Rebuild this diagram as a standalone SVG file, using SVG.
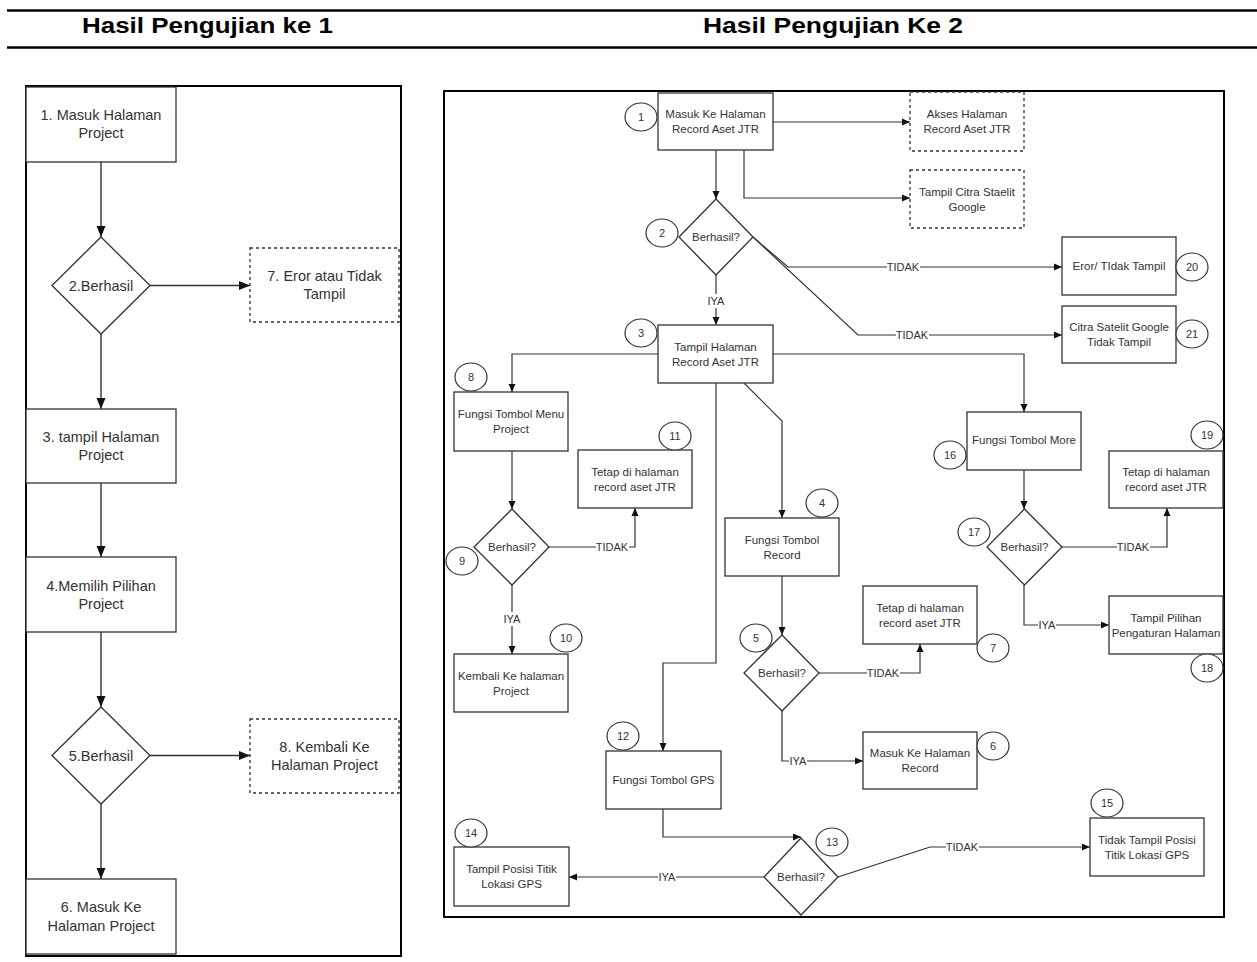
<svg xmlns="http://www.w3.org/2000/svg" width="1257" height="962" viewBox="0 0 1257 962">
<style>
.t{font-family:"Liberation Sans",Arial,sans-serif;fill:#333;text-anchor:middle}
.tl{font-size:14.5px}
.tr{font-size:11.5px}
.tn{font-size:11px}
.lb{font-family:"Liberation Sans",Arial,sans-serif;font-size:11px;fill:#333;text-anchor:middle}
.h{font-family:"Liberation Sans",Arial,sans-serif;font-size:22px;font-weight:bold;fill:#000;text-anchor:middle}
.box{fill:#fff;stroke:#333;stroke-width:1.3}
.dbox{fill:#fff;stroke:#333;stroke-width:1.3;stroke-dasharray:3 3}
.frame{fill:none;stroke:#000;stroke-width:2}
.num{fill:#fff;stroke:#333;stroke-width:1.2}
.cl{fill:none;stroke:#333;stroke-width:1.4;marker-end:url(#ahL)}
.ca{fill:none;stroke:#333;stroke-width:1.2;marker-end:url(#ah)}
.bg{fill:#fff}
</style>
<defs>
<marker id="ah" markerUnits="userSpaceOnUse" markerWidth="9" markerHeight="8" refX="8" refY="4" orient="auto"><path d="M0,0.5 L8,4 L0,7.5 z" fill="#111"/></marker>
<marker id="ahL" markerUnits="userSpaceOnUse" markerWidth="12" markerHeight="10" refX="11" refY="5" orient="auto"><path d="M0,0.5 L11,5 L0,9.5 z" fill="#111"/></marker>
</defs>
<rect width="1257" height="962" fill="#fff"/>

<g id="header">
<line x1="7" y1="10.5" x2="1257" y2="10.5" stroke="#000" stroke-width="2.3"/>
<line x1="7" y1="47.5" x2="1257" y2="47.5" stroke="#000" stroke-width="2.5"/>
<text class="h" x="207.5" y="33" textLength="251" lengthAdjust="spacingAndGlyphs">Hasil Pengujian ke 1</text>
<text class="h" x="833" y="33" textLength="260" lengthAdjust="spacingAndGlyphs">Hasil Pengujian Ke 2</text>
</g>

<rect id="frame-left" class="frame" x="26" y="86" width="375" height="870"/>
<rect id="frame-right" class="frame" x="444" y="91" width="780" height="826"/>

<g id="connectors">
<path class="cl" d="M101,162 V237"/>
<path class="cl" d="M150,285.5 H250"/>
<path class="cl" d="M101,334 V409"/>
<path class="cl" d="M101,483 V557"/>
<path class="cl" d="M101,632 V707"/>
<path class="cl" d="M150,755.5 H250"/>
<path class="cl" d="M101,804 V879"/>

<path class="ca" d="M773,122 H910"/>
<path class="ca" d="M744,150 V198 H910"/>
<path class="ca" d="M716,150 V199"/>
<path class="ca" d="M716,275 V325"/>
<path class="ca" d="M753,237 L788,267 H1062"/>
<path class="ca" d="M753,237 L858,335 H1062"/>
<path class="ca" d="M658,354 H512 V392"/>
<path class="ca" d="M773,354 H1024 V412"/>
<path class="ca" d="M744,383 L782,421 V518"/>
<path class="ca" d="M716,383 V663 H663 V751"/>
<path class="ca" d="M512,451 V509"/>
<path class="ca" d="M549,547 H635 V508"/>
<path class="ca" d="M512,585 V654"/>
<path class="ca" d="M782,576 V635"/>
<path class="ca" d="M819,673 H920 V644"/>
<path class="ca" d="M782,711 V761 H863"/>
<path class="ca" d="M1024,470 V509"/>
<path class="ca" d="M1062,547 H1167 V508"/>
<path class="ca" d="M1024,585 V625 H1109"/>
<path class="ca" d="M663,809 V837 H801"/>
<path class="ca" d="M764,877 H569"/>
<path class="ca" d="M838,877 L930,847 H1090"/>

<g id="labels">
<rect class="bg" x="707" y="294" width="18" height="14"/><text class="lb" x="716" y="305">IYA</text>
<rect class="bg" x="887" y="260" width="33" height="14"/><text class="lb" x="903" y="271">TIDAK</text>
<rect class="bg" x="896" y="328" width="33" height="14"/><text class="lb" x="912" y="339">TIDAK</text>
<rect class="bg" x="596" y="540" width="33" height="14"/><text class="lb" x="612" y="551">TIDAK</text>
<rect class="bg" x="503" y="612" width="18" height="14"/><text class="lb" x="512" y="623">IYA</text>
<rect class="bg" x="867" y="666" width="33" height="14"/><text class="lb" x="883" y="677">TIDAK</text>
<rect class="bg" x="789" y="754" width="18" height="14"/><text class="lb" x="798" y="765">IYA</text>
<rect class="bg" x="1117" y="540" width="33" height="14"/><text class="lb" x="1133" y="551">TIDAK</text>
<rect class="bg" x="1038" y="618" width="18" height="14"/><text class="lb" x="1047" y="629">IYA</text>
<rect class="bg" x="658" y="870" width="18" height="14"/><text class="lb" x="667" y="881">IYA</text>
<rect class="bg" x="946" y="840" width="33" height="14"/><text class="lb" x="962" y="851">TIDAK</text>
</g>
</g>

<g id="L1"><rect class="box" x="26" y="87" width="150" height="75"/><text class="t tl" x="101" y="120">1. Masuk Halaman</text><text class="t tl" x="101" y="138">Project</text></g>
<g id="L2"><polygon class="box" points="101,237 150,285.5 101,334 52,285.5"/><text class="t tl" x="101" y="290.5">2.Berhasil</text></g>
<g id="L7"><rect class="dbox" x="250" y="248" width="149" height="74"/><text class="t tl" x="324.5" y="281">7. Eror atau Tidak</text><text class="t tl" x="324.5" y="299">Tampil</text></g>
<g id="L3"><rect class="box" x="26" y="409" width="150" height="74"/><text class="t tl" x="101" y="442">3. tampil Halaman</text><text class="t tl" x="101" y="460">Project</text></g>
<g id="L4"><rect class="box" x="26" y="557" width="150" height="75"/><text class="t tl" x="101" y="591">4.Memilih Pilihan</text><text class="t tl" x="101" y="609">Project</text></g>
<g id="L5"><polygon class="box" points="101,707 150,755.5 101,804 52,755.5"/><text class="t tl" x="101" y="760.5">5.Berhasil</text></g>
<g id="L8"><rect class="dbox" x="250" y="719" width="149" height="74"/><text class="t tl" x="324.5" y="752">8. Kembali Ke</text><text class="t tl" x="324.5" y="770">Halaman Project</text></g>
<g id="L6"><rect class="box" x="26" y="879" width="150" height="75"/><text class="t tl" x="101" y="912">6. Masuk Ke</text><text class="t tl" x="101" y="931">Halaman Project</text></g>

<g id="R1"><rect class="box" x="658" y="93" width="115" height="57"/><text class="t tr" x="715.5" y="118">Masuk Ke Halaman</text><text class="t tr" x="715.5" y="133">Record Aset JTR</text><ellipse class="num" cx="641" cy="117" rx="16" ry="14"/><text class="t tn" x="641" y="121">1</text></g>
<g id="RAkses"><rect class="dbox" x="910" y="92" width="114" height="59"/><text class="t tr" x="967" y="118">Akses Halaman</text><text class="t tr" x="967" y="133">Record Aset JTR</text></g>
<g id="RCitra"><rect class="dbox" x="910" y="170" width="114" height="58"/><text class="t tr" x="967" y="195.5">Tampil Citra Staelit</text><text class="t tr" x="967" y="210.5">Google</text></g>
<g id="R2"><polygon class="box" points="716,199 753,237 716,275 679,237"/><text class="t tr" x="716" y="241">Berhasil?</text><ellipse class="num" cx="662" cy="233" rx="16" ry="14"/><text class="t tn" x="662" y="237">2</text></g>
<g id="R20"><rect class="box" x="1062" y="237" width="114" height="58"/><text class="t tr" x="1119" y="270">Eror/ TIdak Tampil</text><ellipse class="num" cx="1192" cy="267" rx="16" ry="14"/><text class="t tn" x="1192" y="271">20</text></g>
<g id="R21"><rect class="box" x="1062" y="306" width="114" height="57"/><text class="t tr" x="1119" y="331">Citra Satelit Google</text><text class="t tr" x="1119" y="346">Tidak Tampil</text><ellipse class="num" cx="1192" cy="334" rx="16" ry="14"/><text class="t tn" x="1192" y="338">21</text></g>
<g id="R3"><rect class="box" x="658" y="325" width="115" height="58"/><text class="t tr" x="715.5" y="350.5">Tampil Halaman</text><text class="t tr" x="715.5" y="365.5">Record Aset JTR</text><ellipse class="num" cx="641" cy="333" rx="16" ry="14"/><text class="t tn" x="641" y="337">3</text></g>
<g id="R8"><rect class="box" x="454" y="392" width="114" height="59"/><text class="t tr" x="511" y="418">Fungsi Tombol Menu</text><text class="t tr" x="511" y="433">Project</text><ellipse class="num" cx="471" cy="377" rx="16" ry="14"/><text class="t tn" x="471" y="381">8</text></g>
<g id="R11"><rect class="box" x="578" y="450" width="114" height="58"/><text class="t tr" x="635" y="475.5">Tetap di halaman</text><text class="t tr" x="635" y="490.5">record aset JTR</text><ellipse class="num" cx="675" cy="436" rx="16" ry="14"/><text class="t tn" x="675" y="440">11</text></g>
<g id="R9"><polygon class="box" points="512,509 549,547 512,585 474,547"/><text class="t tr" x="512" y="551">Berhasil?</text><ellipse class="num" cx="462" cy="561" rx="16" ry="14"/><text class="t tn" x="462" y="565">9</text></g>
<g id="R10"><rect class="box" x="454" y="654" width="114" height="58"/><text class="t tr" x="511" y="679.5">Kembali Ke halaman</text><text class="t tr" x="511" y="694.5">Project</text><ellipse class="num" cx="566" cy="638" rx="16" ry="14"/><text class="t tn" x="566" y="642">10</text></g>
<g id="R4"><rect class="box" x="725" y="518" width="114" height="58"/><text class="t tr" x="782" y="543.5">Fungsi Tombol</text><text class="t tr" x="782" y="558.5">Record</text><ellipse class="num" cx="822" cy="503" rx="16" ry="14"/><text class="t tn" x="822" y="507">4</text></g>
<g id="R5"><polygon class="box" points="782,635 819,673 782,711 744,673"/><text class="t tr" x="782" y="677">Berhasil?</text><ellipse class="num" cx="756" cy="638" rx="16" ry="14"/><text class="t tn" x="756" y="642">5</text></g>
<g id="R7"><rect class="box" x="863" y="586" width="114" height="58"/><text class="t tr" x="920" y="611.5">Tetap di halaman</text><text class="t tr" x="920" y="626.5">record aset JTR</text><ellipse class="num" cx="993" cy="648" rx="16" ry="14"/><text class="t tn" x="993" y="652">7</text></g>
<g id="R6"><rect class="box" x="863" y="732" width="114" height="57"/><text class="t tr" x="920" y="757">Masuk Ke Halaman</text><text class="t tr" x="920" y="772">Record</text><ellipse class="num" cx="993" cy="746" rx="16" ry="14"/><text class="t tn" x="993" y="750">6</text></g>
<g id="R16"><rect class="box" x="967" y="412" width="114" height="58"/><text class="t tr" x="1024" y="444">Fungsi Tombol More</text><ellipse class="num" cx="950" cy="455" rx="16" ry="14"/><text class="t tn" x="950" y="459">16</text></g>
<g id="R17"><polygon class="box" points="1024.5,509 1062,547 1024.5,585 987,547"/><text class="t tr" x="1024.5" y="551">Berhasil?</text><ellipse class="num" cx="974" cy="532" rx="16" ry="14"/><text class="t tn" x="974" y="536">17</text></g>
<g id="R19"><rect class="box" x="1109" y="451" width="114" height="57"/><text class="t tr" x="1166" y="476">Tetap di halaman</text><text class="t tr" x="1166" y="491">record aset JTR</text><ellipse class="num" cx="1207" cy="435" rx="16" ry="14"/><text class="t tn" x="1207" y="439">19</text></g>
<g id="R18"><rect class="box" x="1109" y="596" width="114" height="58"/><text class="t tr" x="1166" y="621.5">Tampil Pilihan</text><text class="t tr" x="1166" y="636.5">Pengaturan Halaman</text><ellipse class="num" cx="1207" cy="668" rx="16" ry="14"/><text class="t tn" x="1207" y="672">18</text></g>
<g id="R12"><rect class="box" x="606" y="751" width="115" height="58"/><text class="t tr" x="663.5" y="784">Fungsi Tombol GPS</text><ellipse class="num" cx="623" cy="736" rx="16" ry="14"/><text class="t tn" x="623" y="740">12</text></g>
<g id="R13"><polygon class="box" points="801,838 838,877 801,915 764,877"/><text class="t tr" x="801" y="881">Berhasil?</text><ellipse class="num" cx="832" cy="842" rx="16" ry="14"/><text class="t tn" x="832" y="846">13</text></g>
<g id="R14"><rect class="box" x="454" y="847" width="115" height="59"/><text class="t tr" x="511.5" y="873">Tampil Posisi Titik</text><text class="t tr" x="511.5" y="888">Lokasi GPS</text><ellipse class="num" cx="471" cy="833" rx="16" ry="14"/><text class="t tn" x="471" y="837">14</text></g>
<g id="R15"><rect class="box" x="1090" y="818" width="114" height="58"/><text class="t tr" x="1147" y="843.5">Tidak Tampil Posisi</text><text class="t tr" x="1147" y="858.5">Titik Lokasi GPS</text><ellipse class="num" cx="1107" cy="803" rx="16" ry="14"/><text class="t tn" x="1107" y="807">15</text></g>
</svg>
